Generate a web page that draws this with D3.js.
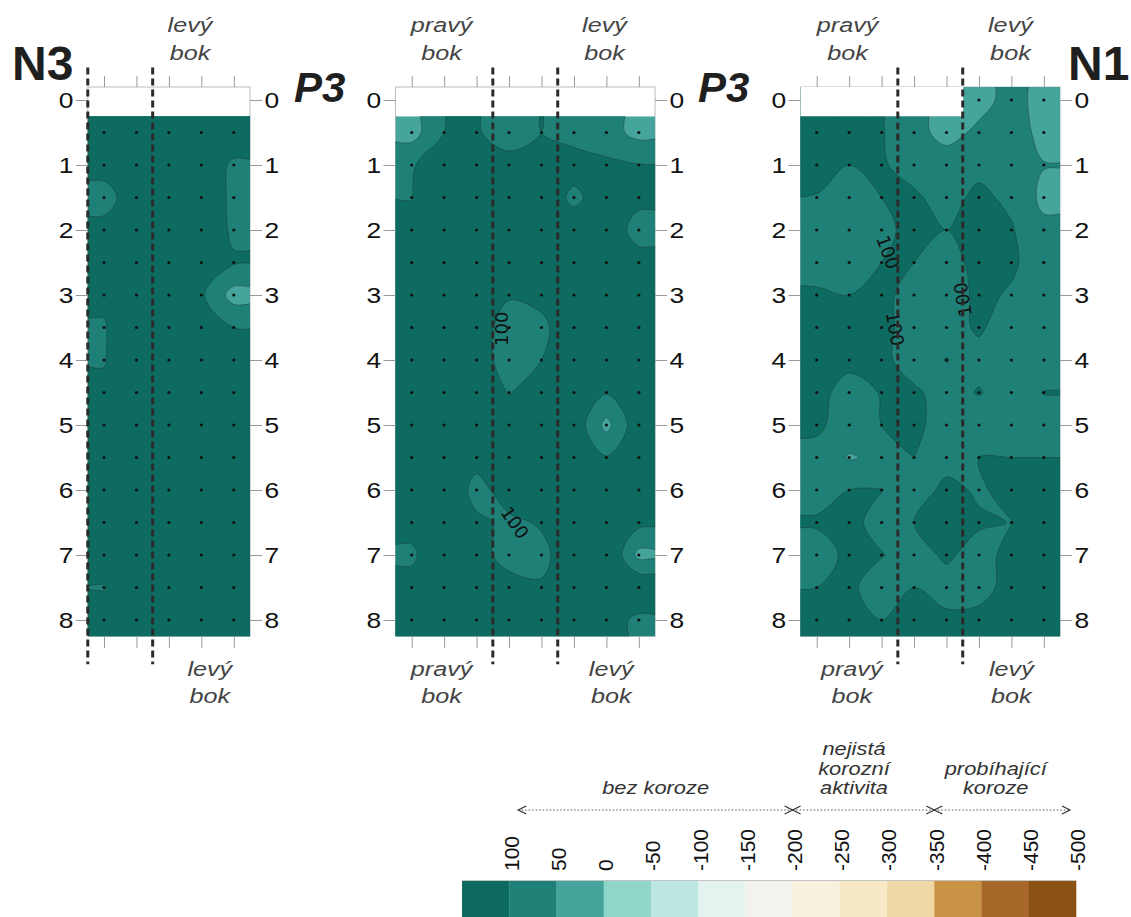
<!DOCTYPE html>
<html>
<head>
<meta charset="utf-8">
<script src="https://cdn.jsdelivr.net/npm/d3@7"></script>
<style>
  body { margin: 0; background: #fff; }
  svg { font-family: "Liberation Sans", Arial, sans-serif; }
</style>
</head>
<body>
<div id="chart"></div>
<script>
// depth ticks (m)
var depthTicks = [0, 1, 2, 3, 4, 5, 6, 7, 8];

// legend classes (potential, mV)
var legendLabels = ["100", "50", "0", "-50", "-100", "-150", "-200", "-250", "-300", "-350", "-400", "-450", "-500"];
var legendValues = [100, 50, 0, -50, -100, -150, -200, -250, -300, -350, -400, -450, -500];
var legendColors = ["#0e6b61", "#1f8077", "#45a59c", "#8fd6c9", "#bfe7e1", "#e4f3ef", "#f3f2ee",
                    "#f8f1de", "#f7e8c6", "#efd8a6", "#c99346", "#a7682a", "#8a5215"];

// range groups above the legend
var rangeLabels = [["bez koroze"], ["nejistá", "korozní", "aktivita"], ["probíhající", "koroze"]];
var rangeFrom = [100, -200, -350];
var rangeTo = [-200, -350, -500];

// N3 : 5 columns, rows 0.5 .. 8 m
var n3Depths = [0.5, 1, 1.5, 2, 2.5, 3, 3.5, 4, 4.5, 5, 5.5, 6, 6.5, 7, 7.5, 8];
var n3Values = [
  [140, 150, 150, 150, 140],
  [120, 150, 150, 140,  90],
  [ 80, 130, 150, 140,  88],
  [116, 150, 150, 135,  92],
  [140, 150, 150, 125, 105],
  [110, 150, 150, 108,  30],
  [ 96, 150, 150, 130, 100],
  [ 97, 150, 150, 150, 130],
  [110, 150, 150, 150, 140],
  [140, 150, 150, 150, 150],
  [150, 150, 150, 150, 150],
  [150, 150, 150, 150, 150],
  [145, 150, 150, 150, 150],
  [130, 150, 150, 150, 150],
  [ 97, 135, 150, 150, 150],
  [130, 150, 150, 150, 150]
];

// P3 : 8 columns, rows 0.5 .. 8 m
var p3Depths = [0.5, 1, 1.5, 2, 2.5, 3, 3.5, 4, 4.5, 5, 5.5, 6, 6.5, 7, 7.5, 8];
var p3Values = [
  [ 30, 100, 104,  80, 100,  85,  70,  35],
  [ 97, 120, 125, 115, 120, 118, 110, 102],
  [ 99, 135, 140, 135, 130,  90, 125, 110],
  [110, 140, 140, 135, 135, 125, 125,  85],
  [125, 140, 140, 130, 130, 130, 125, 115],
  [135, 140, 130, 103, 110, 130, 130, 125],
  [135, 140, 118,  84,  92, 125, 130, 130],
  [135, 140, 115,  86, 100, 125, 130, 130],
  [135, 140, 125,  98, 120, 125, 103, 130],
  [135, 140, 135, 120, 125, 135,  35, 135],
  [130, 140, 115, 125, 130, 125, 103, 130],
  [125, 140,  85, 120, 130, 130, 125, 115],
  [110, 125, 108,  92, 104, 130, 125, 114],
  [ 95, 125, 110,  90,  90, 125, 160,  35],
  [110, 130, 120, 110, 104, 125, 130, 150],
  [120, 135, 135, 130, 125, 120, 125,  88]
];

// N1 : 8 columns, rows 0 .. 8 m (no reading at 0 m under the first five columns)
var n1Depths = [0, 0.5, 1, 1.5, 2, 2.5, 3, 3.5, 4, 4.5, 5, 5.5, 6, 6.5, 7, 7.5, 8];
var n1Values = [
  [null, null, null, null, null, 30, 70, 30],
  [120, 120, 103,  70,  30,  62,  75,  35],
  [115, 100, 104,  85,  80,  88,  85,  52],
  [ 98,  80, 100, 106,  85, 110,  90,  38],
  [ 85,  75,  92, 110, 100, 115, 104,  62],
  [ 85,  80, 100, 100,  85, 112, 106,  80],
  [105, 100, 110,  85,  80, 108,  96,  80],
  [115, 112, 110,  85,  88, 104,  85,  80],
  [115, 110, 108,  85, 101,  90,  85,  80],
  [112,  85, 102, 105,  88, 102,  85, 101],
  [108,  80, 100, 108,  85,  80,  80,  85],
  [ 85,  46,  60, 100,  85, 100, 100, 100],
  [ 85, 100, 101,  80, 110,  95, 112, 110],
  [105, 112,  85, 100, 112, 105,  99, 112],
  [ 80, 110, 102,  85, 106,  85, 112, 112],
  [100, 108,  80, 100,  85,  88, 112, 112],
  [110, 112, 100, 108, 108, 110, 112, 112]
];

var svgWidth = 1131;
var svgHeight = 917;

var svg = d3.select("#chart")
  .append("svg")
  .attr("width", svgWidth)
  .attr("height", svgHeight);

var yScale = d3.scaleLinear().domain([0, 8]).range([100, 620]);
var colStep = 32.45;

var panels = [
  {
    values: n3Values, depths: n3Depths, left: 104, dashes: [-0.5, 1.5],
    top: [{ lines: ["levý", "bok"], col: 2.65 }],
    bottom: [{ lines: ["levý", "bok"], col: 3.26 }],
    labels: []
  },
  {
    values: p3Values, depths: p3Depths, left: 411.7, dashes: [2.5, 4.5],
    top: [{ lines: ["pravý", "bok"], col: 0.92 }, { lines: ["levý", "bok"], col: 5.94 }],
    bottom: [{ lines: ["pravý", "bok"], col: 0.92 }, { lines: ["levý", "bok"], col: 6.15 }],
    labels: [{ col: 2.77, depth: 3.52, angle: -90 }, { col: 3.18, depth: 6.5, angle: 55 }]
  },
  {
    values: n1Values, depths: n1Depths, left: 816.7, dashes: [2.5, 4.5],
    top: [{ lines: ["pravý", "bok"], col: 0.95 }, { lines: ["levý", "bok"], col: 5.97 }],
    bottom: [{ lines: ["pravý", "bok"], col: 1.08 }, { lines: ["levý", "bok"], col: 6.0 }],
    labels: [{ col: 2.2, depth: 2.34, angle: 70 }, { col: 2.42, depth: 3.52, angle: 80 },
             { col: 4.5, depth: 3.07, angle: -100 }]
  }
];

var titles = [
  { text: "N3", x: 12, y: 80, italic: false },
  { text: "P3", x: 294, y: 102, italic: true },
  { text: "P3", x: 698, y: 102, italic: true },
  { text: "N1", x: 1068, y: 80, italic: false }
];

// index of the legend class a value falls in
function bandIndex(v) {
  for (var i = 0; i < legendValues.length - 1; i++) {
    if (v >= legendValues[i]) return i;
  }
  return legendValues.length - 1;
}

function stretchedText(sel, x, y, str, size, sx) {
  return sel.append("text")
    .attr("transform", `translate(${x},${y}) scale(${sx},1)`)
    .attr("font-size", size)
    .text(str);
}

var smoothLine = d3.line().curve(d3.curveCatmullRomClosed.alpha(0.5));

function drawPanel(p, idx) {
  var n = p.values[0].length;
  var m = p.values.length;
  var x = d3.scaleLinear().domain([0, n - 1]).range([p.left, p.left + (n - 1) * colStep]);
  var g = svg.append("g");

  var top = yScale(-0.2), bottom = yScale(8.25);
  var left = x(-0.5), right = x(n - 0.5);

  // frame
  g.append("rect")
    .attr("x", left).attr("y", top)
    .attr("width", right - left).attr("height", bottom - top)
    .attr("fill", "#fff").attr("stroke", "#bdbdbd").attr("stroke-width", 1);

  var step = p.depths[1] - p.depths[0];
  var dataTop = Math.max(-0.2, p.depths[0] - step / 2);

  svg.append("clipPath").attr("id", "clip" + idx)
    .append("rect")
    .attr("x", left).attr("y", yScale(dataTop))
    .attr("width", right - left).attr("height", bottom - yScale(dataTop));

  // grid for the contour generator: edge readings repeated one cell outward
  // (so the border is not cut), missing readings take the reading below
  var flat = [];
  for (var r = -1; r <= m; r++) {
    for (var c = -1; c <= n; c++) {
      var rr = Math.min(Math.max(r, 0), m - 1);
      var cc = Math.min(Math.max(c, 0), n - 1);
      var v = p.values[rr][cc];
      while (v == null) { rr++; v = p.values[rr][cc]; }
      flat.push(v);
    }
  }
  var minV = d3.min(flat);

  function toPx(pt) {
    return [x(pt[0] - 1.5), yScale(p.depths[0] + step * (pt[1] - 1.5))];
  }

  function pathOf(geom) {
    return geom.coordinates.map(function(poly) {
      return poly.map(function(ring) {
        var pts = [];
        ring.slice(0, -1).forEach(function(pt) {
          var q = toPx(pt);
          var last = pts[pts.length - 1];
          if (!last || Math.abs(last[0] - q[0]) > 0.01 || Math.abs(last[1] - q[1]) > 0.01) pts.push(q);
        });
        return pts.length > 2 ? smoothLine(pts) : "";
      }).join("");
    }).join("");
  }

  var layer = g.append("g").attr("clip-path", `url(#clip${idx})`);

  layer.append("rect")
    .attr("x", left).attr("y", yScale(dataTop))
    .attr("width", right - left).attr("height", bottom - yScale(dataTop))
    .attr("fill", legendColors[bandIndex(minV)]);

  var thresholds = legendValues.slice(0, -1).reverse().filter(t => t > minV);
  var contours = d3.contours().size([n + 2, m + 2]).thresholds(thresholds)(flat);

  layer.selectAll("path.band")
    .data(contours)
    .enter()
    .append("path")
    .attr("class", "band")
    .attr("d", d => pathOf(d))
    .attr("fill", d => legendColors[legendValues.indexOf(d.value)])
    .attr("fill-rule", "evenodd")
    .attr("stroke", "rgba(30,30,30,0.45)")
    .attr("stroke-width", 0.7);

  // white band where there is no reading at the top
  for (var c2 = 0; c2 < n; c2++) {
    var first = 0;
    while (p.values[first][c2] == null) first++;
    var blankTo = p.depths[first] - step / 2;
    if (blankTo > dataTop + 0.001) {
      layer.append("rect")
        .attr("x", x(c2 - 0.5) - 0.5).attr("y", yScale(dataTop) - 1)
        .attr("width", colStep + 1).attr("height", yScale(blankTo) - yScale(dataTop) + 1)
        .attr("fill", "#fff");
    }
  }

  // measurement points
  var pts = [];
  p.values.forEach(function(row, r) {
    row.forEach(function(v, c) {
      if (v != null) pts.push({ c: c, d: p.depths[r] });
    });
  });
  g.selectAll("circle")
    .data(pts)
    .enter()
    .append("circle")
    .attr("cx", d => x(d.c))
    .attr("cy", d => yScale(d.d))
    .attr("r", 1.6)
    .attr("fill", "#111");

  // contour labels
  p.labels.forEach(function(l) {
    g.append("text")
      .attr("transform", `translate(${x(l.col)},${yScale(l.depth)}) rotate(${l.angle})`)
      .attr("text-anchor", "middle")
      .attr("dominant-baseline", "central")
      .attr("font-family", "DejaVu Sans, sans-serif")
      .attr("font-size", 18)
      .attr("fill", "#111")
      .text("100");
  });

  // axes
  var cols = d3.range(n);
  var tickStyle = function(ax) {
    ax.select(".domain").remove();
    ax.selectAll("line").attr("stroke", "#9a9a9a");
  };
  g.append("g").attr("transform", `translate(0,${top})`)
    .call(d3.axisTop(x).tickValues(cols).tickSize(11).tickFormat(""))
    .call(tickStyle);
  g.append("g").attr("transform", `translate(0,${bottom})`)
    .call(d3.axisBottom(x).tickValues(cols).tickSize(12).tickFormat(""))
    .call(tickStyle);

  var leftAxis = g.append("g").attr("transform", `translate(${left},0)`)
    .call(d3.axisLeft(yScale).tickValues(depthTicks).tickSize(12).tickPadding(0))
    .call(tickStyle);
  var rightAxis = g.append("g").attr("transform", `translate(${right},0)`)
    .call(d3.axisRight(yScale).tickValues(depthTicks).tickSize(12).tickPadding(0))
    .call(tickStyle);
  [leftAxis, rightAxis].forEach(function(ax) {
    ax.selectAll("text")
      .attr("font-size", 22)
      .attr("font-family", "Liberation Sans, Arial, sans-serif")
      .attr("fill", "#111")
      .attr("transform", "scale(1.2,1)");
  });

  // dashed section lines
  g.selectAll("line.dash")
    .data(p.dashes)
    .enter()
    .append("line")
    .attr("class", "dash")
    .attr("x1", d => x(d)).attr("x2", d => x(d))
    .attr("y1", yScale(-0.5)).attr("y2", yScale(8.68))
    .attr("stroke", "#2b2b2b")
    .attr("stroke-width", 3)
    .attr("stroke-dasharray", "7,4");

  // side labels
  var side = g.append("g")
    .attr("font-style", "italic")
    .attr("fill", "#444")
    .attr("text-anchor", "middle");
  p.top.forEach(function(s) {
    s.lines.forEach(function(t, k) {
      stretchedText(side, x(s.col), 32 + k * 28, t, 21, 1.2);
    });
  });
  p.bottom.forEach(function(s) {
    s.lines.forEach(function(t, k) {
      stretchedText(side, x(s.col), 676 + k * 27, t, 21, 1.2);
    });
  });
}

panels.forEach(drawPanel);

// panel titles
titles.forEach(function(t) {
  svg.append("text")
    .attr("x", t.x).attr("y", t.y)
    .attr("font-size", t.italic ? 42 : 48)
    .attr("font-weight", "bold")
    .attr("font-style", t.italic ? "italic" : "normal")
    .attr("fill", "#1f1f1f")
    .text(t.text);
});

// legend
var legendX = d3.scaleLinear().domain([0, legendColors.length]).range([462, 1076]);
var legend = svg.append("g");

legend.selectAll("rect")
  .data(legendColors)
  .enter()
  .append("rect")
  .attr("x", (d, i) => legendX(i))
  .attr("y", 880)
  .attr("width", legendX(1) - legendX(0) + 0.3)
  .attr("height", 40)
  .attr("fill", d => d);

legend.append("line")
  .attr("x1", legendX(0)).attr("x2", legendX(legendColors.length))
  .attr("y1", 880.5).attr("y2", 880.5)
  .attr("stroke", "#c4c4c4");

legend.selectAll("text.lv")
  .data(legendLabels)
  .enter()
  .append("text")
  .attr("class", "lv")
  .attr("transform", (d, i) => `translate(${legendX(i + 1) + 2},871) rotate(-90)`)
  .attr("dy", "0.35em")
  .attr("font-size", 21)
  .attr("fill", "#111")
  .text(d => d);

// value -> legend position of the class boundary
function boundaryX(v) {
  return legendX(legendValues.indexOf(v) + 1);
}

var rangeCenters = [4.1, 8.3, 11.3];
var arrowY = 810;
rangeLabels.forEach(function(lines, i) {
  var x1 = boundaryX(rangeFrom[i]) + (i === 0 ? 9 : 0);
  var x2 = boundaryX(rangeTo[i]) - (i === rangeLabels.length - 1 ? 6 : 0);
  legend.append("line")
    .attr("x1", x1).attr("x2", x2)
    .attr("y1", arrowY).attr("y2", arrowY)
    .attr("stroke", "#555").attr("stroke-width", 1)
    .attr("stroke-dasharray", "1.5,2");
  legend.append("path")
    .attr("d", `M${x1 + 8},${arrowY - 4}L${x1},${arrowY}L${x1 + 8},${arrowY + 4}` +
               `M${x2 - 8},${arrowY - 4}L${x2},${arrowY}L${x2 - 8},${arrowY + 4}`)
    .attr("fill", "none").attr("stroke", "#333").attr("stroke-width", 1.2);

  var t = legend.append("g")
    .attr("font-style", "italic")
    .attr("fill", "#333")
    .attr("text-anchor", "middle");
  lines.forEach(function(s, k) {
    var y = 794 - (lines.length - 1 - k) * 19.5;
    stretchedText(t, legendX(rangeCenters[i]), y, s, 19, 1.15);
  });
});
</script>
</body>
</html>
